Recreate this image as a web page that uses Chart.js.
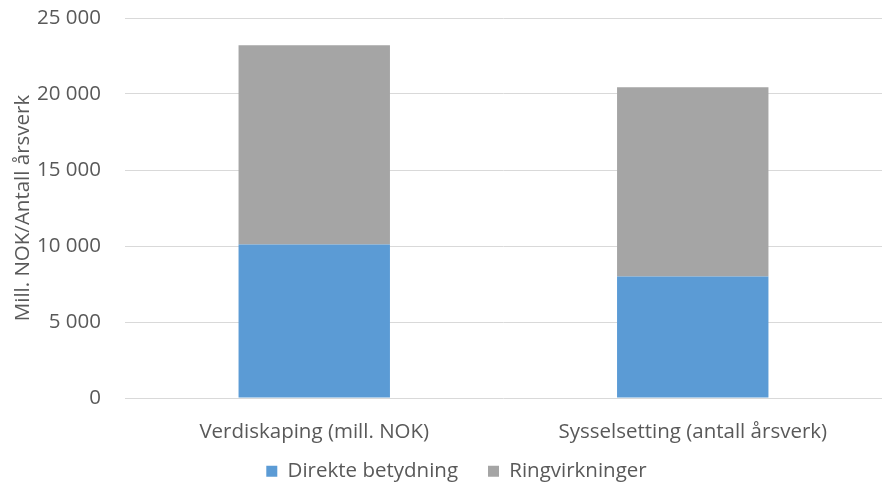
<!DOCTYPE html>
<html>
<head>
<meta charset="utf-8">
<script src="https://cdn.jsdelivr.net/npm/chart.js@4/dist/chart.umd.min.js"></script>
<style>
  html, body { margin: 0; padding: 0; background: #ffffff; }
  #wrap { width: 882px; height: 488px; }
</style>
</head>
<body>
<div id="wrap"><canvas id="chart" width="882" height="488"></canvas></div>
<script>
// Categories and series (mill. NOK / antall årsverk)
const categories = ['Verdiskaping (mill. NOK)', 'Sysselsetting (antall årsverk)'];
const direkteBetydning = [10100, 8000];
const ringvirkninger = [13100, 12450];
const yTicks = [0, 5000, 10000, 15000, 20000, 25000];

const fontFamily = "'Open Sans', 'Liberation Sans', sans-serif";
const textColor = '#595959';
const textSize = 20.5;
const legendGap = 30;       // space between legend entries
const legendBand = 36;      // height reserved for the legend at the bottom
const legendLift = 21;      // entries are drawn this much higher than the band's top
const legendShiftX = 10;

function fmt(v) {
  return String(v).replace(/\B(?=(\d{3})+(?!\d))/g, ' ');
}

// Wide spacing between legend entries while keeping the legend band short.
const compactLegend = {
  id: 'compactLegend',
  beforeInit(chart) {
    const legend = chart.legend;
    if (!legend) return;
    const fit = legend.fit;
    legend.fit = function () {
      fit.call(this);
      this.height = legendBand;
    };
  },
  afterLayout(chart) {
    const legend = chart.legend;
    if (!legend) return;
    legend.top -= legendLift;
    legend.left += legendShiftX;
    legend.right += legendShiftX;
  }
};

new Chart(document.getElementById('chart'), {
  type: 'bar',
  data: {
    labels: categories,
    datasets: [
      { label: 'Direkte betydning', data: direkteBetydning, backgroundColor: '#5b9bd5',
        categoryPercentage: 1, barPercentage: 0.4 },
      { label: 'Ringvirkninger', data: ringvirkninger, backgroundColor: '#a5a5a5',
        categoryPercentage: 1, barPercentage: 0.4 }
    ]
  },
  plugins: [compactLegend],
  options: {
    responsive: false,
    animation: false,
    layout: { padding: { top: 18, right: 0, bottom: 0, left: 11 } },
    plugins: {
      legend: {
        position: 'bottom',
        labels: {
          boxWidth: 11, boxHeight: 11, padding: legendGap,
          color: textColor, font: { family: fontFamily, size: textSize }
        }
      },
      tooltip: { enabled: false }
    },
    scales: {
      x: {
        stacked: true,
        grid: { display: false },
        border: { display: false },
        afterFit: (axis) => { axis.height = 54; axis.paddingLeft = 0; axis.paddingRight = 0; },
        ticks: { color: textColor, font: { family: fontFamily, size: textSize }, padding: 14 }
      },
      y: {
        stacked: true,
        min: 0, max: 25000,
        afterBuildTicks: (axis) => { axis.ticks = yTicks.map(v => ({ value: v })); },
        afterFit: (axis) => { axis.width = 114; axis.paddingTop = 0; axis.paddingBottom = 0; },
        grid: { color: '#d9d9d9', lineWidth: 1, drawTicks: false },
        border: { display: false },
        ticks: { color: textColor, font: { family: fontFamily, size: textSize }, padding: 24,
                 callback: (v) => fmt(v) },
        title: { display: true, text: 'Mill. NOK/Antall årsverk', color: textColor,
                 font: { family: fontFamily, size: 20.5 }, padding: 0 }
      }
    }
  }
});
</script>
</body>
</html>
